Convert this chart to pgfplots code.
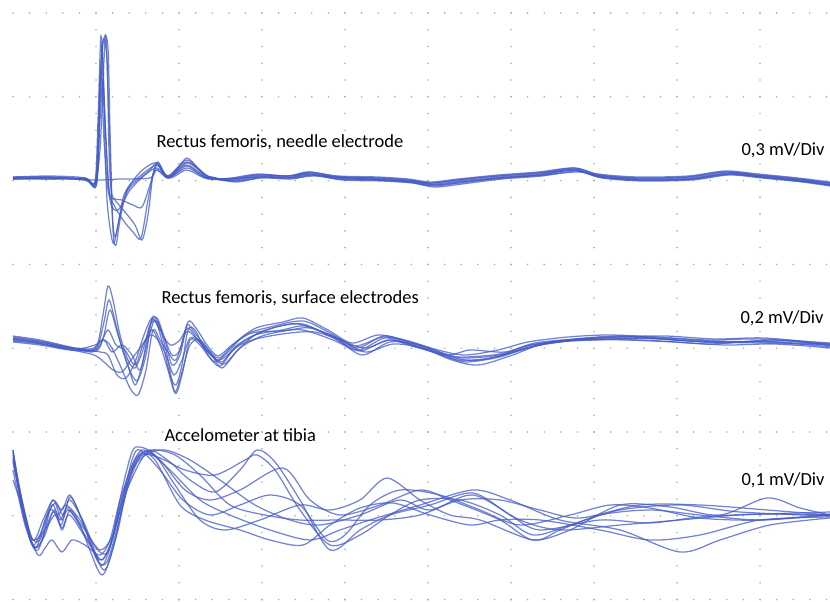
\documentclass[border=0pt]{standalone}
\usepackage{pgfplots}
\pgfplotsset{compat=1.18}
\usepackage{fontspec}
\setmainfont{Carlito}
\definecolor{tracec}{RGB}{68,90,196}
\definecolor{dotc}{RGB}{172,172,182}
\pgfplotsset{trace/.style={color=tracec, line width=1.25pt, opacity=0.75, smooth, tension=0.5, mark=none}}
\begin{document}
\begin{tikzpicture}
\begin{axis}[
  width=830pt, height=602pt, scale only axis,
  xmin=0, xmax=830, ymin=0, ymax=602, y dir=reverse,
  axis line style={draw=none}, tick style={draw=none},
  xticklabels={}, yticklabels={},
  xtick={96,179,262,345,428,511,594,677,760},
  ytick={13,96.8,180.6,264.4,348.2,432,515.8,599.6},
  xmajorgrids, ymajorgrids,
  x grid style={draw=dotc, line width=1.8pt, line cap=round, dash pattern=on 0pt off 16.76pt, dash phase=3.76pt},
  y grid style={draw=dotc, line width=1.8pt, line cap=round, dash pattern=on 0pt off 16.6pt, dash phase=3.6pt},
  clip=true,
]
% ---------------- needle electrode (top) ----------------
\addplot[trace] coordinates {(13,178)(50,177)(85,179)(95,181)(98,120)(101,36)(104,110)(107,200)(113,243)(118,225)(124,195)(135,178)(145,168)(157,163)(168,178)(178,168)(187,158)(198,168)(210,178)(233,180)(260,176)(290,177)(310,173)(340,178)(380,179)(410,181)(433,184)(460,181)(500,177)(540,174)(575,169)(600,176)(640,179)(690,178)(727,173)(760,176)(800,180)(830,184)};
\addplot[trace] coordinates {(13,179)(50,178)(85,180)(95,183)(100,150)(104,60)(106,37)(109,120)(112,210)(115,237)(120,215)(128,190)(140,178)(150,170)(158,162)(168,176)(187,160)(205,176)(212,177)(235,182)(262,178)(292,179)(312,175)(342,180)(382,181)(412,183)(435,187)(462,184)(502,179)(542,176)(577,171)(602,178)(642,181)(692,180)(729,175)(762,178)(802,182)(830,186)};
\addplot[trace] coordinates {(13,177)(50,176)(85,178)(96,186)(99,130)(102,45)(105,120)(109,190)(115,200)(125,212)(135,225)(142,240)(148,215)(153,175)(158,163)(167,177)(186,165)(200,173)(208,179)(231,178)(258,174)(288,176)(308,172)(338,176)(378,177)(408,179)(431,182)(458,179)(498,175)(538,172)(573,168)(598,174)(638,177)(688,176)(725,171)(758,174)(798,178)(830,182)};
\addplot[trace] coordinates {(13,178)(50,179)(85,178)(96,180)(100,100)(103,40)(107,60)(109,150)(112,195)(122,200)(133,205)(142,207)(150,185)(157,165)(168,178)(187,163)(205,175)(215,178)(238,181)(264,177)(294,178)(314,176)(344,179)(384,180)(414,182)(437,185)(464,182)(504,178)(544,175)(579,172)(604,177)(644,180)(694,179)(731,174)(764,177)(804,181)(830,185)};
\addplot[trace] coordinates {(13,179)(50,178)(85,180)(95,185)(98,140)(101,70)(104,140)(108,190)(114,205)(123,220)(133,232)(141,238)(148,200)(155,170)(168,178)(187,168)(205,177)(228,179)(256,175)(286,176)(306,174)(336,177)(376,178)(406,180)(429,183)(456,180)(496,176)(536,173)(571,170)(596,175)(636,178)(686,177)(723,172)(756,175)(796,179)(830,183)};
\addplot[trace] coordinates {(13,178)(50,178)(95,180)(120,179)(150,178)(157,170)(170,178)(187,170)(205,178)(230,179)(258,177)(288,178)(310,175)(340,177)(380,180)(410,182)(433,186)(460,183)(500,178)(540,175)(575,170)(600,177)(640,180)(690,179)(727,174)(760,177)(800,181)(830,185)};
\addplot[trace] coordinates {(13,177)(50,177)(85,179)(97,182)(100,80)(104,38)(108,48)(110,130)(113,230)(116,245)(120,220)(127,190)(140,176)(157,165)(168,176)(187,162)(210,177)(233,179)(260,175)(290,176)(310,172)(340,177)(380,178)(410,180)(433,183)(460,180)(500,176)(540,173)(575,168)(600,175)(640,178)(690,177)(727,172)(760,175)(800,179)(830,183)};
\addplot[trace] coordinates {(13,179)(50,179)(85,179)(96,183)(100,120)(103,80)(106,140)(110,200)(118,210)(130,190)(145,175)(157,168)(170,177)(187,166)(205,177)(232,181)(259,177)(289,178)(309,174)(339,179)(379,180)(409,182)(432,185)(459,182)(499,178)(539,175)(574,170)(599,177)(639,180)(689,179)(726,174)(759,177)(799,181)(830,185)};
% ---------------- surface electrodes (middle) ----------------
\addplot[trace] coordinates {(13,338)(35,341)(60,346)(85,349)(97,345)(103,315)(108,286)(113,300)(120,335)(128,360)(135,368)(143,350)(150,325)(156,322)(163,345)(170,375)(176,385)(182,365)(188,330)(195,330)(205,350)(215,362)(228,352)(245,335)(270,327)(303,321)(330,333)(355,346)(383,337)(410,342)(440,352)(460,357)(500,354)(530,345)(570,340)(610,338)(660,339)(710,342)(760,343)(830,345)};
\addplot[trace] coordinates {(13,340)(35,343)(60,347)(85,350)(97,348)(104,322)(109,300)(116,325)(124,355)(132,375)(138,380)(146,355)(152,318)(158,322)(166,350)(175,393)(182,375)(190,340)(200,345)(210,358)(220,366)(235,348)(255,335)(280,326)(303,324)(330,336)(358,350)(385,338)(412,345)(445,356)(465,362)(500,357)(530,347)(570,341)(610,339)(660,341)(710,344)(760,341)(830,347)};
\addplot[trace] coordinates {(13,339)(35,342)(60,348)(85,351)(98,350)(104,335)(110,310)(118,335)(127,362)(135,385)(142,365)(150,325)(157,318)(165,340)(172,365)(180,355)(188,322)(196,328)(207,345)(218,356)(232,345)(252,333)(280,331)(303,330)(333,340)(360,351)(388,340)(415,347)(448,355)(470,350)(505,352)(535,343)(575,339)(615,337)(665,336)(715,339)(765,338)(830,344)};
\addplot[trace] coordinates {(13,336)(40,340)(70,347)(92,352)(100,345)(108,330)(116,345)(125,350)(135,365)(143,345)(152,330)(160,345)(168,370)(175,392)(182,372)(190,345)(200,340)(212,355)(222,368)(238,350)(258,333)(285,325)(303,325)(335,338)(362,355)(390,342)(420,345)(455,358)(480,360)(515,352)(545,343)(585,338)(625,336)(675,340)(725,343)(775,340)(830,345)};
\addplot[trace] coordinates {(13,342)(40,345)(70,350)(92,350)(102,340)(110,345)(120,365)(130,388)(138,395)(146,370)(153,330)(160,340)(168,352)(176,360)(186,332)(196,338)(208,352)(220,360)(240,345)(260,338)(290,333)(315,332)(340,340)(365,348)(392,340)(425,349)(458,360)(490,358)(520,350)(555,342)(595,340)(640,338)(690,341)(740,342)(790,341)(830,346)};
\addplot[trace] coordinates {(13,339)(45,343)(75,349)(95,345)(104,340)(112,352)(122,345)(132,355)(140,370)(148,340)(155,320)(163,335)(172,355)(180,350)(187,325)(195,333)(207,348)(219,358)(236,342)(256,328)(283,322)(303,318)(328,330)(352,343)(378,335)(405,340)(438,350)(465,355)(498,350)(528,342)(568,337)(608,335)(658,337)(708,340)(758,339)(830,343)};
\addplot[trace] coordinates {(13,341)(42,344)(72,350)(94,355)(104,362)(113,370)(122,372)(131,360)(140,348)(150,335)(158,340)(166,355)(174,375)(182,360)(190,338)(200,342)(212,356)(224,364)(240,348)(262,336)(290,330)(310,328)(338,338)(365,352)(393,344)(422,348)(452,360)(478,365)(510,356)(540,345)(580,340)(625,340)(675,342)(725,345)(775,344)(830,348)};
\addplot[trace] coordinates {(13,337)(40,341)(68,347)(90,350)(100,352)(108,355)(117,375)(126,378)(135,362)(144,335)(152,318)(160,330)(170,345)(180,340)(188,328)(198,340)(210,354)(222,362)(236,346)(255,335)(282,330)(305,326)(332,336)(357,348)(384,336)(410,343)(440,353)(462,358)(500,355)(532,345)(572,340)(612,337)(662,338)(712,341)(762,342)(830,344)};
% ---------------- accelerometer (bottom) ----------------
\addplot[trace] coordinates {(13,450)(18,480)(25,520)(33,545)(42,530)(53,500)(62,520)(70,497)(80,515)(95,555)(103,565)(112,540)(122,490)(132,452)(140,447)(155,455)(175,485)(200,520)(225,530)(260,520)(300,505)(330,510)(360,500)(387,478)(420,500)(450,515)(480,520)(533,540)(560,530)(600,515)(650,510)(700,515)(760,520)(830,515)};
\addplot[trace] coordinates {(13,455)(20,495)(30,540)(38,550)(47,525)(55,510)(62,530)(70,510)(80,525)(98,570)(105,572)(115,540)(125,495)(135,462)(150,450)(170,462)(190,480)(215,492)(240,470)(257,450)(275,462)(300,500)(330,550)(360,530)(390,515)(430,505)(473,493)(510,515)(540,530)(600,520)(650,523)(700,517)(760,514)(830,515)};
\addplot[trace] coordinates {(13,460)(22,505)(33,545)(42,540)(52,505)(60,520)(68,508)(85,535)(100,560)(110,545)(120,505)(130,470)(142,450)(160,460)(185,490)(210,500)(240,490)(283,468)(310,500)(340,515)(380,505)(420,490)(450,500)(500,520)(533,540)(570,530)(620,505)(670,507)(720,515)(767,498)(800,508)(830,515)};
\addplot[trace] coordinates {(13,470)(25,525)(38,555)(45,548)(52,540)(62,552)(72,540)(85,545)(100,555)(110,540)(120,500)(135,460)(148,452)(170,470)(200,500)(230,515)(270,530)(310,540)(340,530)(370,520)(420,505)(473,490)(510,500)(560,520)(620,530)(680,552)(720,540)(770,525)(830,518)};
\addplot[trace] coordinates {(13,450)(22,510)(35,548)(45,520)(55,503)(63,515)(70,500)(85,525)(100,565)(107,567)(118,530)(130,475)(145,455)(165,450)(190,460)(220,480)(255,505)(290,520)(320,525)(360,515)(400,500)(430,510)(473,495)(520,520)(560,530)(620,525)(680,520)(740,515)(830,512)};
\addplot[trace] coordinates {(13,480)(25,515)(33,540)(45,530)(55,515)(62,528)(70,515)(90,545)(102,560)(112,540)(125,490)(140,455)(155,460)(180,505)(205,520)(240,530)(270,540)(303,545)(330,525)(360,508)(393,503)(430,515)(470,525)(500,520)(540,520)(600,530)(650,540)(700,535)(760,520)(830,517)};
\addplot[trace] coordinates {(13,452)(20,490)(30,535)(40,540)(50,510)(58,515)(66,505)(80,520)(96,548)(108,552)(120,510)(132,460)(140,450)(160,470)(183,500)(210,515)(240,505)(270,495)(300,505)(327,540)(345,535)(370,505)(400,490)(440,495)(480,510)(520,525)(570,515)(610,505)(650,508)(700,518)(760,520)(830,514)};
\addplot[trace] coordinates {(13,462)(25,520)(35,548)(45,535)(53,512)(61,525)(68,510)(85,530)(100,550)(113,535)(125,495)(140,462)(152,450)(175,455)(200,475)(230,505)(265,515)(300,520)(340,520)(380,520)(420,515)(460,500)(500,500)(540,510)(580,518)(640,505)(700,505)(767,510)(830,515)};
\addplot[trace] coordinates {(13,458)(22,500)(33,540)(43,520)(53,500)(62,510)(70,495)(82,520)(97,560)(107,562)(118,525)(130,480)(142,455)(160,458)(185,470)(215,475)(245,460)(257,455)(275,470)(300,510)(330,545)(360,535)(390,515)(420,500)(460,500)(500,515)(533,535)(570,525)(620,510)(680,505)(740,512)(830,516)};
% ---------------- labels ----------------
\node[anchor=base west, font=\fontsize{18.5}{20}\selectfont] at (axis cs:153,147) {Rectus femoris, needle electrode};
\node[anchor=base west, font=\fontsize{18.5}{20}\selectfont] at (axis cs:158,303) {Rectus femoris, surface electrodes};
\node[anchor=base west, font=\fontsize{18.5}{20}\selectfont] at (axis cs:161,441) {Accelometer at tibia};
\node[anchor=base west, font=\fontsize{18.5}{20}\selectfont] at (axis cs:738,155) {0,3 mV/Div};
\node[anchor=base west, font=\fontsize{18.5}{20}\selectfont] at (axis cs:737,323) {0,2 mV/Div};
\node[anchor=base west, font=\fontsize{18.5}{20}\selectfont] at (axis cs:738,485) {0,1 mV/Div};
\end{axis}
\pgfresetboundingbox
\useasboundingbox (current axis.south west) rectangle (current axis.north east);
\end{tikzpicture}
\end{document}
